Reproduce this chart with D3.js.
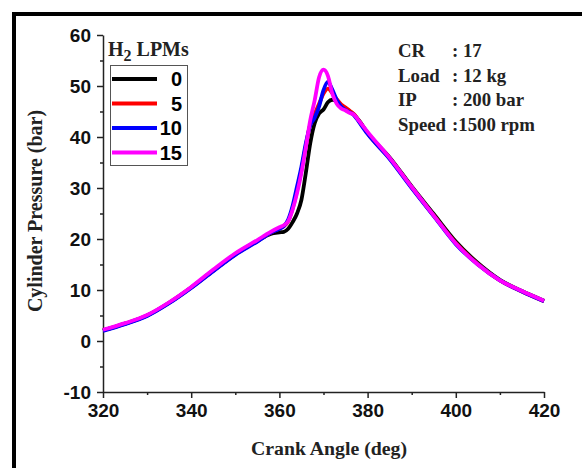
<!DOCTYPE html>
<html>
<head>
<meta charset="utf-8">
<script src="https://cdn.jsdelivr.net/npm/d3@7"></script>
<style>
  body { margin: 0; background: #fff; }
  .tick text { font-family: "Liberation Sans", Arial, sans-serif; font-weight: bold; font-size: 19px; fill: #111; }
  .serif { font-family: "Liberation Serif", "Times New Roman", serif; font-weight: bold; fill: #222; }
</style>
</head>
<body>
<script>
// donnees
var angles = [320, 325, 330, 335, 340, 345, 350, 355, 358, 360, 361, 362, 363, 364, 365, 366, 367, 368, 369, 370,
              371, 372, 373, 374, 375, 376, 377, 378, 380, 385, 390, 395, 400, 405, 410, 415, 420];
var lpm0  = [2.1, 3.4, 5.0, 7.5, 10.5, 13.8, 17.0, 19.6, 21.0, 21.3, 21.4, 22.0, 23.3, 25.0, 27.7, 33.0, 38.8, 42.7, 44.6, 45.4,
             46.8, 47.3, 47.0, 46.2, 45.6, 45.0, 44.3, 43.3, 40.8, 36.0, 30.3, 24.9, 19.5, 15.3, 12.0, 9.8, 7.9];
var lpm5  = [2.1, 3.4, 5.0, 7.5, 10.5, 13.8, 17.0, 19.6, 21.2, 22.1, 22.5, 23.5, 26.0, 29.5, 33.5, 38.3, 42.5, 44.5, 46.5, 48.5,
             49.5, 48.6, 47.4, 46.4, 45.8, 45.1, 44.4, 43.2, 40.7, 35.8, 30.1, 24.6, 19.2, 15.1, 11.9, 9.7, 7.8];
var lpm10 = [2.0, 3.3, 4.9, 7.4, 10.4, 13.7, 16.9, 19.5, 21.2, 22.0, 22.5, 23.8, 26.5, 30.3, 34.2, 38.8, 42.3, 43.8, 46.0, 49.2,
             50.8, 49.3, 47.3, 46.0, 45.3, 44.8, 44.2, 43.0, 40.6, 35.7, 30.0, 24.5, 19.0, 15.0, 11.9, 9.7, 7.8];
var lpm15 = [2.2, 3.5, 5.1, 7.6, 10.6, 14.0, 17.2, 19.8, 21.4, 22.3, 22.7, 23.5, 25.8, 29.0, 33.0, 38.0, 43.3, 47.2, 51.7, 53.2,
             52.0, 48.5, 46.5, 45.6, 45.2, 44.7, 44.3, 43.2, 41.0, 35.9, 30.2, 24.6, 19.1, 15.0, 11.9, 9.8, 7.9];

var seriesNames = ["0", "5", "10", "15"];
var seriesColors = ["#000000", "#ff0000", "#0000ff", "#ff00ff"];
var xTicks = [320, 340, 360, 380, 400, 420];
var yTicks = [-10, 0, 10, 20, 30, 40, 50, 60];
var infoLabels = ["CR", "Load", "IP", "Speed"];
var infoValues = [": 17", ": 12 kg", ": 200 bar", ":1500 rpm"];

var W = 582, H = 468;
var svg = d3.select("body").append("svg")
            .attr("width", W)
            .attr("height", H);

// cadre noir
svg.append("rect")
   .attr("x", 14).attr("y", 14)
   .attr("width", 620).attr("height", 520)
   .attr("fill", "none")
   .attr("stroke", "#000")
   .attr("stroke-width", 4);

var x = d3.scaleLinear().domain([320, 420]).range([103, 544]);
var y = d3.scaleLinear().domain([-10, 60]).range([392, 35]);

// axes
svg.append("g").attr("transform", "translate(0," + y(-10) + ")")
   .call(d3.axisBottom(x).tickValues(xTicks).tickSize(6).tickPadding(6).tickSizeOuter(0));
svg.append("g").attr("transform", "translate(0," + y(-10) + ")")
   .call(d3.axisBottom(x).tickValues([330, 350, 370, 390, 410]).tickSize(3).tickFormat(""))
   .select(".domain").remove();

svg.append("g").attr("transform", "translate(" + x(320) + ",0)")
   .call(d3.axisLeft(y).tickValues(yTicks).tickSize(6).tickPadding(6).tickSizeOuter(0)
           .tickFormat(function(d) { return String(d); }));
svg.append("g").attr("transform", "translate(" + x(320) + ",0)")
   .call(d3.axisLeft(y).tickValues([-5, 5, 15, 25, 35, 45, 55]).tickSize(3).tickFormat(""))
   .select(".domain").remove();

svg.selectAll(".domain, .tick line").attr("stroke", "#222").attr("stroke-width", 1.5);

// titres des axes
svg.append("text").attr("class", "serif")
   .attr("x", 329).attr("y", 455)
   .attr("text-anchor", "middle")
   .style("font-size", "19.8px")
   .text("Crank Angle (deg)");

svg.append("text").attr("class", "serif")
   .attr("transform", "translate(42,211) rotate(-90)")
   .attr("text-anchor", "middle")
   .style("font-size", "20px")
   .text("Cylinder Pressure (bar)");

// courbes
var allSeries = [lpm0, lpm5, lpm10, lpm15];
var line = d3.line()
             .x(function(d, i) { return x(angles[i]); })
             .y(function(d) { return y(d); })
             .curve(d3.curveMonotoneX);

allSeries.forEach(function(s, k) {
  svg.append("path")
     .attr("d", line(s))
     .attr("fill", "none")
     .attr("stroke", seriesColors[k])
     .attr("stroke-width", 3.8)
     .attr("stroke-linejoin", "round");
});

// legende
var leg = svg.append("g");
var legTitle = leg.append("text").attr("class", "serif")
                  .attr("x", 108).attr("y", 56)
                  .style("font-size", "20px");
legTitle.append("tspan").text("H");
legTitle.append("tspan").attr("dy", 5).style("font-size", "16px").text("2");
legTitle.append("tspan").attr("dy", -5).text(" LPMs");

leg.append("rect")
   .attr("x", 110.5).attr("y", 65.5)
   .attr("width", 77).attr("height", 100)
   .attr("fill", "#fff")
   .attr("stroke", "#555")
   .attr("stroke-width", 1);

seriesNames.forEach(function(n, k) {
  var yy = 79 + k * 24.5;
  leg.append("line")
     .attr("x1", 112).attr("x2", 157)
     .attr("y1", yy).attr("y2", yy)
     .attr("stroke", seriesColors[k])
     .attr("stroke-width", 3.8);
  leg.append("text")
     .attr("x", 182).attr("y", yy + 7)
     .attr("text-anchor", "end")
     .style("font-family", "Liberation Sans, Arial, sans-serif")
     .style("font-weight", "bold")
     .style("font-size", "20px")
     .text(n);
});

// infos moteur
infoLabels.forEach(function(l, i) {
  var yy = 57 + i * 24.7;
  svg.append("text").attr("class", "serif")
     .attr("x", 398).attr("y", yy)
     .style("font-size", "18.8px")
     .text(l);
  svg.append("text").attr("class", "serif")
     .attr("x", 452).attr("y", yy)
     .style("font-size", "18.8px")
     .text(infoValues[i]);
});
</script>
</body>
</html>
